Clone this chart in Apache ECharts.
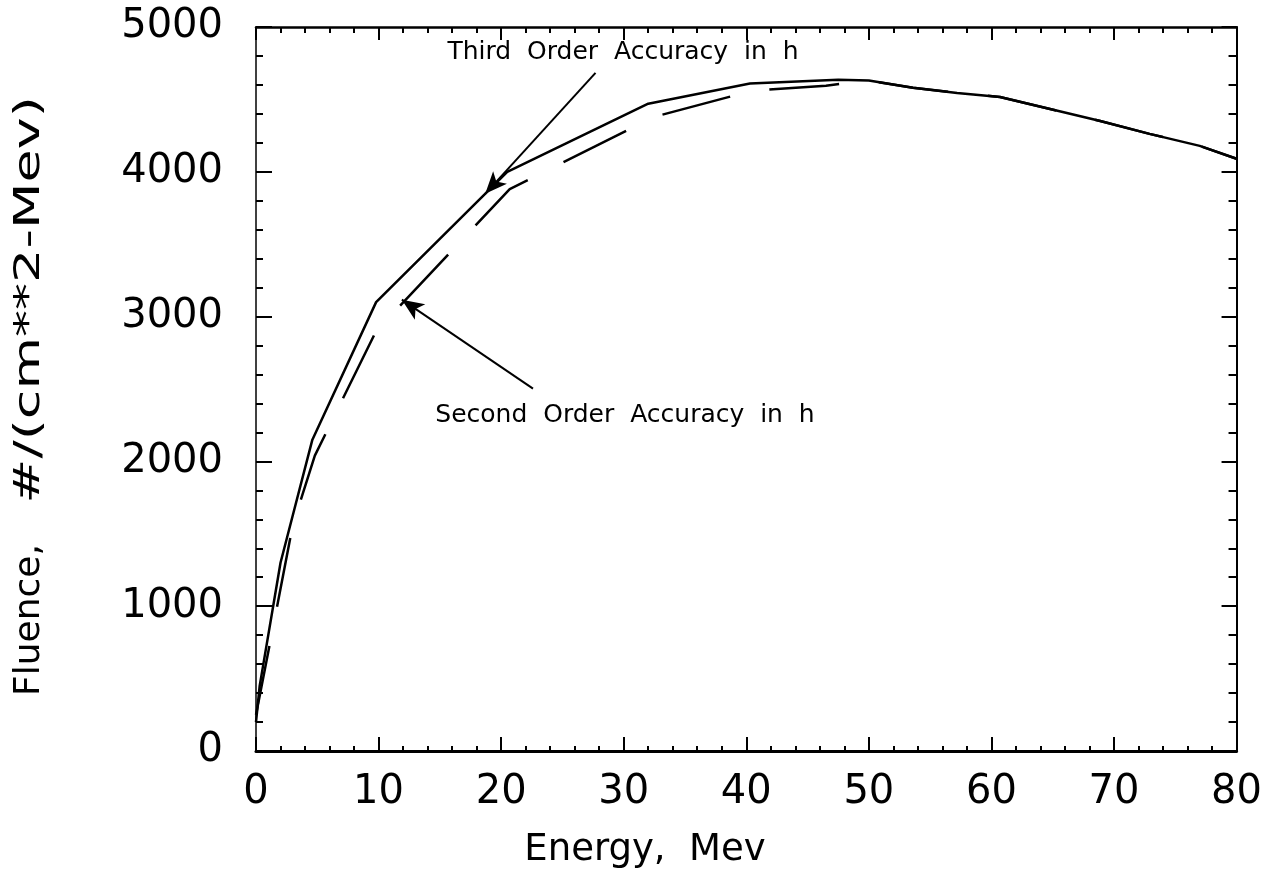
<!DOCTYPE html>
<html>
<head>
<meta charset="utf-8">
<title>Fluence vs Energy</title>
<script src="https://cdn.jsdelivr.net/npm/echarts@6/dist/echarts.min.js"></script>
<style>
  html, body { margin: 0; padding: 0; background: #fff; }
  #chart { width: 1265px; height: 887px; }
</style>
</head>
<body>
<div id="chart"></div>
<script>
// Third order accuracy in h (solid curve)
const thirdEnergy  = [0, 0.3, 0.6, 1.4, 2.0, 4.6, 9.8, 20.5, 32.0, 40.3, 47.5, 50.0, 53.6, 57.2, 60.7, 68.8, 72.9, 77.0, 80.0];
const thirdFluence = [200, 450, 600, 1000, 1300, 2150, 3100, 4000, 4470, 4610, 4635, 4630, 4580, 4545, 4517, 4352, 4262, 4179, 4090];

// Second order accuracy in h (long-dash curve)
const secondEnergy  = [0, 1.5, 3.0, 4.8, 9.8, 20.7, 32.5, 40.5, 46.5, 50.0, 53.6, 57.2, 60.7, 68.8, 72.9, 77.0, 80.0];
const secondFluence = [250, 900, 1560, 2040, 2900, 3880, 4380, 4560, 4595, 4630, 4580, 4545, 4517, 4352, 4262, 4179, 4090];

// Annotation arrows: [tailX, tailY, tipX, tipY] in data units
const thirdArrow  = [27.7, 4683, 18.7, 3848];
const secondArrow = [22.6, 2503, 11.9, 3117];

const xTicks = { min: 0, max: 80, interval: 10 };
const yTicks = { min: 0, max: 5000, interval: 1000 };

const FONT = '"DejaVu Sans", sans-serif';

const pairs = (xs, ys) => xs.map((x, i) => [x, ys[i]]);

const chart = echarts.init(document.getElementById('chart'), null, { renderer: 'canvas' });

function axisBase(lineWidth, majorLen, minorLen) {
  return {
    axisLine: { show: true, onZero: false, lineStyle: { color: '#000', width: lineWidth } },
    axisTick: { show: true, inside: true, length: majorLen, lineStyle: { color: '#000', width: 2 } },
    minorTick: { show: true, splitNumber: 5, length: minorLen, lineStyle: { color: '#000', width: 2 } },
    splitLine: { show: false },
    minorSplitLine: { show: false }
  };
}

const option = {
  backgroundColor: '#fff',
  animation: false,
  grid: { left: 256, right: 28, top: 27, bottom: 136, containLabel: false },
  xAxis: [
    Object.assign({
      type: 'value', position: 'bottom',
      min: xTicks.min, max: xTicks.max, interval: xTicks.interval,
      axisLabel: { show: true, margin: 22, color: '#000', fontFamily: FONT, fontSize: 40,
                   formatter: v => String(v) }
    }, axisBase(3, 14, 5)),
    Object.assign({
      type: 'value', position: 'top',
      min: xTicks.min, max: xTicks.max, interval: xTicks.interval,
      axisLabel: { show: false }
    }, axisBase(2.5, 13, 6))
  ],
  yAxis: [
    Object.assign({
      type: 'value', position: 'left',
      min: yTicks.min, max: yTicks.max, interval: yTicks.interval,
      axisLabel: { show: true, margin: 33, color: '#000', fontFamily: FONT, fontSize: 40,
                   formatter: v => String(v) }
    }, axisBase(1.5, 16, 7)),
    Object.assign({
      type: 'value', position: 'right',
      min: yTicks.min, max: yTicks.max, interval: yTicks.interval,
      axisLabel: { show: false }
    }, axisBase(2, 15, 8))
  ],
  series: [
    {
      name: 'Third Order Accuracy in h',
      type: 'line',
      data: pairs(thirdEnergy, thirdFluence),
      showSymbol: false,
      lineStyle: { color: '#000', width: 2.5 },
      z: 3,
      markLine: {
        silent: true,
        symbol: ['none', 'arrow'],
        symbolSize: [14, 22],
        label: { show: false },
        lineStyle: { color: '#000', width: 2, type: 'solid' },
        data: [
          [{ coord: [thirdArrow[0], thirdArrow[1]] }, { coord: [thirdArrow[2], thirdArrow[3]] }],
          [{ coord: [secondArrow[0], secondArrow[1]] }, { coord: [secondArrow[2], secondArrow[3]] }]
        ]
      }
    },
    {
      name: 'Second Order Accuracy in h',
      type: 'line',
      data: pairs(secondEnergy, secondFluence),
      showSymbol: false,
      lineStyle: { color: '#000', width: 2.5, type: [70, 40], dashOffset: 0 },
      z: 2
    }
  ],
  graphic: [
    {
      type: 'text', x: 623, y: 52,
      style: { text: 'Third  Order  Accuracy  in  h', font: '25px ' + FONT, fill: '#000',
               textAlign: 'center', textVerticalAlign: 'middle', align: 'center', verticalAlign: 'middle' }
    },
    {
      type: 'text', x: 625, y: 415,
      style: { text: 'Second  Order  Accuracy  in  h', font: '25px ' + FONT, fill: '#000',
               textAlign: 'center', textVerticalAlign: 'middle', align: 'center', verticalAlign: 'middle' }
    },
    {
      type: 'text', x: 645, y: 850,
      style: { text: 'Energy,  Mev', font: '37px ' + FONT, fill: '#000',
               textAlign: 'center', textVerticalAlign: 'middle', align: 'center', verticalAlign: 'middle' }
    },
    // vertical axis title, drawn in two runs: the unit part is set wider
    {
      type: 'text', x: 30, y: 620, rotation: Math.PI / 2,
      style: { text: 'Fluence,', font: '36px ' + FONT, fill: '#000',
               textAlign: 'center', textVerticalAlign: 'middle', align: 'center', verticalAlign: 'middle' }
    },
    {
      type: 'text', x: 30, y: 300, rotation: Math.PI / 2, scaleX: 1.5, scaleY: 1,
      style: { text: '#/(cm**2-Mev)', font: '36px ' + FONT, fill: '#000',
               textAlign: 'center', textVerticalAlign: 'middle', align: 'center', verticalAlign: 'middle' }
    }
  ]
};

chart.setOption(option);
</script>
</body>
</html>
